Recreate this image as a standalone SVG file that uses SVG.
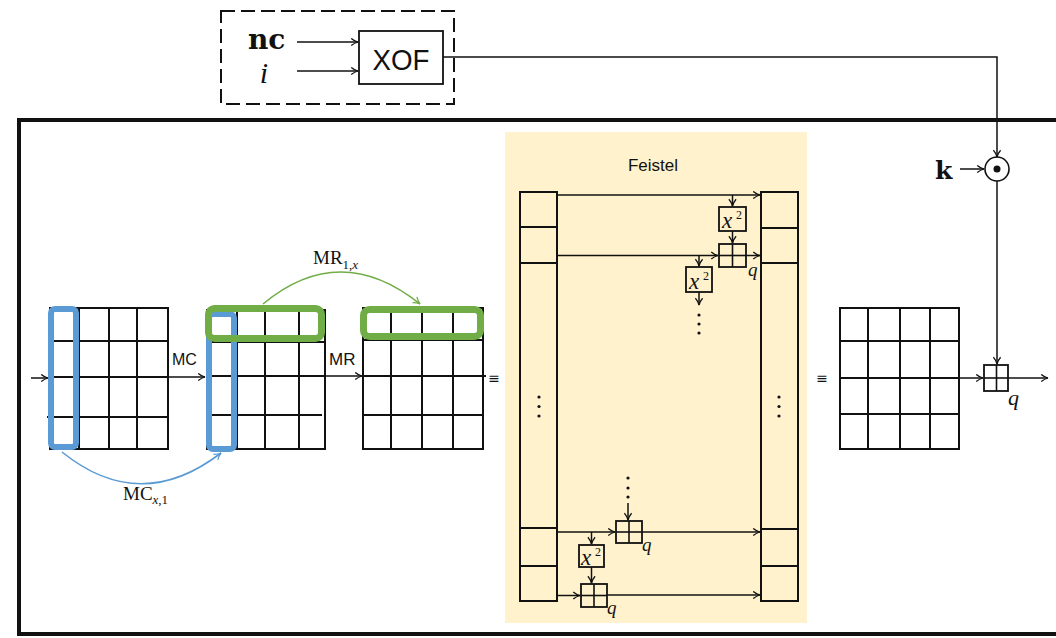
<svg xmlns="http://www.w3.org/2000/svg" width="1056" height="638" viewBox="0 0 1056 638">
<defs>
<style>
.ln{stroke:#111;stroke-width:1.6;fill:none}
.gr{stroke:#111;stroke-width:2;fill:none}
.bx{stroke:#111;stroke-width:1.8;fill:none}
.ar{stroke:#111;stroke-width:1.5;fill:none;marker-end:url(#ah)}
.sans{font-family:"Liberation Sans",Arial,sans-serif;fill:#111}
.ser{font-family:"Liberation Serif","Times New Roman",serif;fill:#111}
.it{font-style:italic}
.dot{fill:#111}
</style>
<marker id="ah" viewBox="0 0 10 10" refX="9" refY="5" markerWidth="9" markerHeight="9" markerUnits="userSpaceOnUse" orient="auto">
<path d="M1.5,1 Q5,4 9,5 Q5,6 1.5,9" fill="none" stroke="#111" stroke-width="1.4"/>
</marker>
<marker id="ahb" viewBox="0 0 10 10" refX="9" refY="5" markerWidth="9" markerHeight="9" markerUnits="userSpaceOnUse" orient="auto">
<path d="M1.5,1 Q5,4 9,5 Q5,6 1.5,9" fill="none" stroke="#5B9BD5" stroke-width="1.4"/>
</marker>
<marker id="ahg" viewBox="0 0 10 10" refX="9" refY="5" markerWidth="9" markerHeight="9" markerUnits="userSpaceOnUse" orient="auto">
<path d="M1.5,1 Q5,4 9,5 Q5,6 1.5,9" fill="none" stroke="#70AD47" stroke-width="1.4"/>
</marker>
</defs>
<rect width="1056" height="638" fill="#fff"/>

<!-- outer frame -->
<g id="frame">
<rect x="19" y="120" width="1060" height="514" fill="none" stroke="#111" stroke-width="4"/>
</g>

<!-- XOF dashed group -->
<g id="xof-group">
<rect x="221" y="11" width="233" height="93" fill="none" stroke="#111" stroke-width="2" stroke-dasharray="14 6"/>
<text x="248" y="49" font-family="DejaVu Serif,serif" font-weight="bold" font-size="28" fill="#111">nc</text>
<text x="264" y="83" class="ser it" font-size="30" text-anchor="middle">i</text>
</g>
<g id="xof">
<rect x="359" y="31" width="84" height="53" class="bx"/>
<text x="401" y="70" class="sans" font-size="30" text-anchor="middle" textLength="57" lengthAdjust="spacingAndGlyphs">XOF</text>
</g>

<!-- Feistel background -->
<g id="feistel">
<rect x="505" y="132" width="302" height="491" fill="#FFF2CC"/>
<text x="653" y="171" class="sans" font-size="17" text-anchor="middle">Feistel</text>
<g id="feistel-left">
<rect x="520" y="192" width="37" height="409" class="gr"/>
<line x1="520" y1="227" x2="557" y2="227" class="gr"/>
<line x1="520" y1="263" x2="557" y2="263" class="gr"/>
<line x1="520" y1="528" x2="557" y2="528" class="gr"/>
<line x1="520" y1="566" x2="557" y2="566" class="gr"/>
<circle cx="539" cy="397" r="1.6" class="dot"/><circle cx="539" cy="406.5" r="1.6" class="dot"/><circle cx="539" cy="416" r="1.6" class="dot"/>
</g>
<g id="feistel-right">
<rect x="761" y="192" width="37" height="409" class="gr"/>
<line x1="761" y1="228" x2="798" y2="228" class="gr"/>
<line x1="761" y1="263" x2="798" y2="263" class="gr"/>
<line x1="761" y1="529" x2="798" y2="529" class="gr"/>
<line x1="761" y1="566" x2="798" y2="566" class="gr"/>
<circle cx="779" cy="397" r="1.6" class="dot"/><circle cx="779" cy="406.5" r="1.6" class="dot"/><circle cx="779" cy="416" r="1.6" class="dot"/>
</g>
<g id="sq1">
<rect x="719" y="207" width="27" height="24" class="bx"/>
<text class="ser" font-size="23"><tspan x="722" y="228" class="it">x</tspan><tspan x="736" y="219" font-size="12">2</tspan></text>
</g>
<g id="add1">
<rect x="719" y="244" width="27" height="23" class="bx"/>
<line x1="732.5" y1="244" x2="732.5" y2="267" class="ln"/>
<line x1="719" y1="255.5" x2="746" y2="255.5" class="ln"/>
<text x="748" y="276" class="ser it" font-size="19">q</text>
</g>
<g id="sq2">
<rect x="686" y="267" width="26" height="25" class="bx"/>
<text class="ser" font-size="23"><tspan x="689" y="289" class="it">x</tspan><tspan x="703" y="280" font-size="12">2</tspan></text>
</g>
<g id="dots-mid">
<circle cx="699" cy="315" r="1.6" class="dot"/><circle cx="699" cy="324" r="1.6" class="dot"/><circle cx="699" cy="333" r="1.6" class="dot"/>
<circle cx="628" cy="478" r="1.6" class="dot"/><circle cx="628" cy="488" r="1.6" class="dot"/><circle cx="628" cy="497" r="1.6" class="dot"/>
</g>
<g id="add2">
<rect x="616" y="521" width="26" height="22" class="bx"/>
<line x1="629" y1="521" x2="629" y2="543" class="ln"/>
<line x1="616" y1="532" x2="642" y2="532" class="ln"/>
<text x="642" y="551" class="ser it" font-size="19">q</text>
</g>
<g id="sq3">
<rect x="579" y="545" width="25" height="22" class="bx"/>
<text class="ser" font-size="23"><tspan x="581" y="565" class="it">x</tspan><tspan x="595" y="556" font-size="12">2</tspan></text>
</g>
<g id="add3">
<rect x="581" y="584" width="26" height="23" class="bx"/>
<line x1="594" y1="584" x2="594" y2="607" class="ln"/>
<line x1="581" y1="595.5" x2="607" y2="595.5" class="ln"/>
<text x="607" y="614" class="ser it" font-size="19">q</text>
</g>
</g>

<!-- grids -->
<g id="grid1">
<rect x="50" y="308" width="118" height="141" class="gr"/>
<line x1="79" y1="308" x2="79" y2="449" class="gr"/>
<line x1="109" y1="308" x2="109" y2="449" class="gr"/>
<line x1="137" y1="308" x2="137" y2="449" class="gr"/>
<line x1="50" y1="341" x2="168" y2="341" class="gr"/>
<line x1="50" y1="377" x2="168" y2="377" class="gr"/>
<line x1="47" y1="417" x2="168" y2="417" class="gr"/>
<rect x="51" y="309" width="25" height="138" rx="4" fill="none" stroke="#5B9BD5" stroke-width="6"/>
</g>
<g id="grid2">
<rect x="207" y="310" width="118" height="139" class="gr"/>
<line x1="237" y1="310" x2="237" y2="449" class="gr"/>
<line x1="265" y1="310" x2="265" y2="449" class="gr"/>
<line x1="299" y1="310" x2="299" y2="449" class="gr"/>
<line x1="207" y1="342" x2="325" y2="342" class="gr"/>
<line x1="207" y1="376" x2="325" y2="376" class="gr"/>
<line x1="207" y1="415" x2="322" y2="415" class="gr"/>
<rect x="209" y="314" width="25" height="135" rx="4" fill="none" stroke="#5B9BD5" stroke-width="6"/>
<rect x="208.5" y="308.5" width="113" height="30" rx="6" fill="none" stroke="#70AD47" stroke-width="7"/>
</g>
<g id="grid3">
<rect x="363" y="308" width="120" height="141" class="gr"/>
<line x1="391" y1="308" x2="391" y2="449" class="gr"/>
<line x1="422" y1="308" x2="422" y2="449" class="gr"/>
<line x1="453" y1="308" x2="453" y2="449" class="gr"/>
<line x1="363" y1="340" x2="483" y2="340" class="gr"/>
<line x1="363" y1="376" x2="486" y2="376" class="gr"/>
<line x1="363" y1="415" x2="483" y2="415" class="gr"/>
<rect x="363.5" y="309.5" width="117" height="27" rx="6" fill="none" stroke="#70AD47" stroke-width="7"/>
</g>
<g id="grid4">
<rect x="840" y="308" width="119" height="141" class="gr"/>
<line x1="868" y1="308" x2="868" y2="449" class="gr"/>
<line x1="900" y1="308" x2="900" y2="449" class="gr"/>
<line x1="930" y1="308" x2="930" y2="449" class="gr"/>
<line x1="840" y1="341" x2="959" y2="341" class="gr"/>
<line x1="840" y1="378" x2="959" y2="378" class="gr"/>
<line x1="840" y1="414" x2="959" y2="414" class="gr"/>
</g>
<g id="equiv">
<text x="494" y="383" font-family="DejaVu Sans,sans-serif" font-size="14" text-anchor="middle" fill="#111">≡</text>
<text x="822" y="383" font-family="DejaVu Sans,sans-serif" font-size="14" text-anchor="middle" fill="#111">≡</text>
</g>

<!-- key part -->
<g id="odot">
<circle cx="997" cy="169" r="12" fill="#fff" stroke="#111" stroke-width="1.6"/>
<circle cx="997" cy="169" r="3.5" class="dot"/>
<text x="935" y="179" font-family="DejaVu Serif,serif" font-weight="bold" font-size="25" fill="#111">k</text>
</g>
<g id="add-out">
<rect x="984" y="365" width="24" height="26" class="bx"/>
<line x1="996.5" y1="365" x2="996.5" y2="391" class="ln"/>
<line x1="984" y1="378" x2="1008" y2="378" class="ln"/>
<text x="1008" y="405" class="ser it" font-size="22">q</text>
</g>

<!-- labels -->
<g id="labels">
<text x="172" y="365" class="sans" font-size="16">MC</text>
<text x="329" y="365" class="sans" font-size="17">MR</text>
<text class="ser" font-size="19" x="123" y="500">MC<tspan font-size="13" dy="4" class="it">x</tspan><tspan font-size="13">,1</tspan></text>
<text class="ser" font-size="19" x="313" y="264">MR<tspan font-size="13" dy="5">1,</tspan><tspan font-size="13" class="it">x</tspan></text>
</g>

<!-- connectors -->
<g id="connectors">
<line x1="297" y1="42" x2="358" y2="42" class="ar"/>
<line x1="297" y1="71" x2="358" y2="71" class="ar"/>
<polyline points="443,57 997,57 997,157" class="ar"/>
<line x1="960" y1="169" x2="984" y2="169" class="ar"/>
<line x1="997" y1="181" x2="997" y2="364" class="ar"/>
<line x1="959" y1="378" x2="983" y2="378" class="ar"/>
<line x1="1008" y1="378" x2="1048" y2="378" class="ar"/>
<line x1="31" y1="378" x2="48" y2="378" class="ar"/>
<line x1="168" y1="377" x2="205" y2="377" class="ar"/>
<line x1="325" y1="376" x2="362" y2="376" class="ar"/>
<path d="M62,452 Q140,515 221,453" fill="none" stroke="#5B9BD5" stroke-width="1.6" marker-end="url(#ahb)"/>
<path d="M263,304 Q340,240 420,304" fill="none" stroke="#70AD47" stroke-width="1.6" marker-end="url(#ahg)"/>
<!-- feistel internals -->
<line x1="557" y1="195" x2="760" y2="195" class="ar"/>
<line x1="732.5" y1="195" x2="732.5" y2="206" class="ar"/>
<line x1="732.5" y1="231" x2="732.5" y2="243" class="ar"/>
<line x1="557" y1="255.5" x2="718" y2="255.5" class="ar"/>
<line x1="746" y1="255.5" x2="760" y2="255.5" class="ar"/>
<line x1="699" y1="255.5" x2="699" y2="266" class="ar"/>
<line x1="699" y1="292" x2="699" y2="305" class="ar"/>
<line x1="628" y1="503" x2="628" y2="520" class="ar"/>
<line x1="557" y1="532" x2="615" y2="532" class="ar"/>
<line x1="642" y1="532" x2="760" y2="532" class="ar"/>
<line x1="591.5" y1="532" x2="591.5" y2="544" class="ar"/>
<line x1="591.5" y1="567" x2="591.5" y2="583" class="ar"/>
<line x1="558" y1="595.5" x2="580" y2="595.5" class="ar"/>
<line x1="607" y1="595" x2="760" y2="595" class="ar"/>
</g>
</svg>
